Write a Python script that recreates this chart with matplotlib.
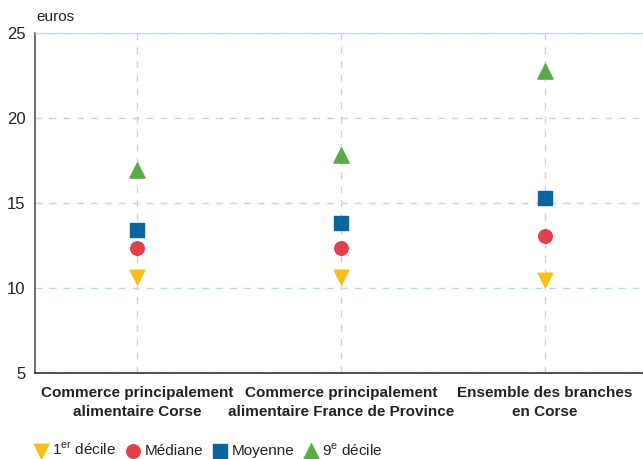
import matplotlib
matplotlib.use("Agg")
import matplotlib.pyplot as plt

plt.rcParams['font.family'] = ['Liberation Sans', 'DejaVu Sans']
plt.rcParams['mathtext.fontset'] = 'custom'
plt.rcParams['mathtext.rm'] = 'Liberation Sans'

categories = ["Commerce principalement\nalimentaire Corse",
              "Commerce principalement\nalimentaire France de Province",
              "Ensemble des branches\nen Corse"]
decile1 = [10.65, 10.65, 10.45]
mediane = [12.35, 12.35, 13.05]
moyenne = [13.4, 13.85, 15.3]
decile9 = [16.95, 17.8, 22.75]
yticks = [5, 10, 15, 20, 25]

grid_col = "#B9D8F0"

fig = plt.figure(figsize=(6.43, 4.59), dpi=100)
ax = fig.add_axes([35 / 643, 86 / 459, 608 / 643, 340 / 459])

x = range(len(categories))
ax.scatter(x, decile1, marker="v", s=110, color="#F7BE1A", zorder=3, label="1$^{\\mathrm{er}}$ décile")
ax.scatter(x, mediane, marker="o", s=95, color="#E2404A", zorder=3, label="Médiane")
ax.scatter(x, moyenne, marker="s", s=110, color="#0A64A0", zorder=3, label="Moyenne")
ax.scatter(x, decile9, marker="^", s=120, color="#5DA94A", zorder=3, label="9$^{\\mathrm{e}}$ décile")

ax.set_xlim(-0.5, 2.48)
ax.set_ylim(5, 25)
ax.set_yticks(yticks)
ax.set_xticks(list(x))
ax.set_xticklabels([])
ax.tick_params(length=0, labelsize=12, pad=7, labelcolor="#222222")
ax.grid(True, color=grid_col, linestyle=(0, (5, 5)), linewidth=1)
ax.set_axisbelow(True)

ax.spines['right'].set_visible(False)
ax.spines['top'].set_color(grid_col)
ax.spines['left'].set_color("#555555")
ax.spines['bottom'].set_color("#333333")
ax.spines['left'].set_linewidth(1.2)
ax.spines['bottom'].set_linewidth(1.2)

for i, lab in enumerate(categories):
    ax.text(i, 4.25, lab, ha="center", va="top", fontsize=11, fontweight="bold",
            color="#222222", linespacing=1.45)

fig.text(36 / 643, 1 - 17 / 459, "euros", fontsize=11, color="#222222", va="center")

fig.legend(loc="lower left", bbox_to_anchor=(30 / 643, -0.005), ncol=4, frameon=False,
           fontsize=11, handlelength=1.0, handletextpad=0.25, columnspacing=0.6,
           borderaxespad=0.0, borderpad=0.2, scatterpoints=1, labelcolor="#222222")

fig.savefig("out.png", dpi=100)
